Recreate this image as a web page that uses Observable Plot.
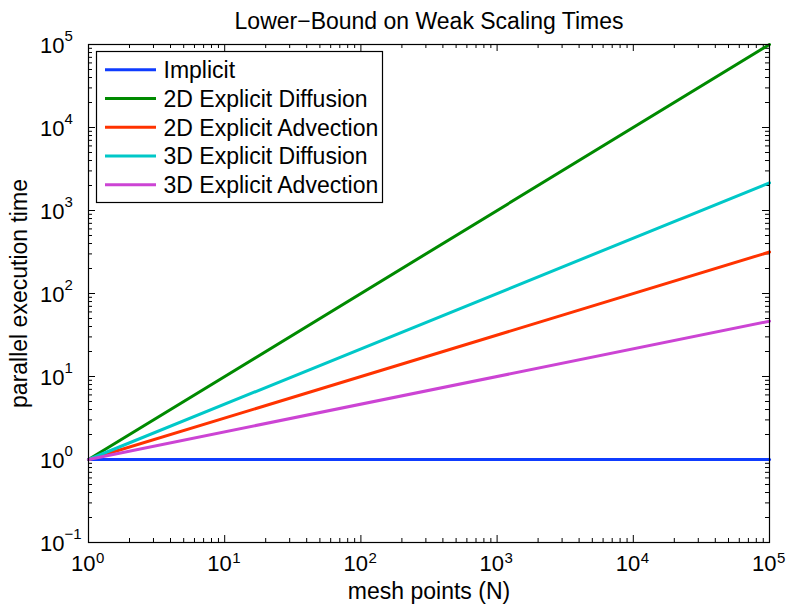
<!DOCTYPE html>
<html>
<head>
<meta charset="utf-8">
<script src="https://cdn.jsdelivr.net/npm/d3@7"></script>
<script src="https://cdn.jsdelivr.net/npm/@observablehq/plot@0.6"></script>
<style>
  html, body { margin: 0; padding: 0; background: #fff; }
  svg { font-family: "Liberation Sans", Arial, Helvetica, sans-serif; }
</style>
</head>
<body>
<div id="chart"></div>
<script>
// ---- data ----
const seriesNames = ["Implicit", "2D Explicit Diffusion", "2D Explicit Advection", "3D Explicit Diffusion", "3D Explicit Advection"];
const seriesColors = ["#0f3cff", "#008a00", "#ff3300", "#00c8c8", "#cc44d4"];
const meshPoints = [1, 100000];
const implicitTimes = [1, 1];
const diff2DTimes = [1, 100000];
const adv2DTimes = [1, 316];
const diff3DTimes = [1, 2154];
const adv3DTimes = [1, 46.4];
const seriesValues = [implicitTimes, diff2DTimes, adv2DTimes, diff3DTimes, adv3DTimes];
const xTickExponents = [0, 1, 2, 3, 4, 5];
const yTickExponents = [-1, 0, 1, 2, 3, 4, 5];
const titleText = "Lower\u2212Bound on Weak Scaling Times";
const xLabel = "mesh points (N)";
const yLabel = "parallel execution time";

// ---- layout ----
const W = 788, H = 605;
const mL = 88, mR = 19, mT = 44, mB = 63;
const innerW = W - mL - mR, innerH = H - mT - mB;
const FONT = 23;

const rows = [];
seriesNames.forEach((name, i) => {
  meshPoints.forEach((x, j) => rows.push({series: name, x, y: seriesValues[i][j]}));
});

const major = e => Math.pow(10, e);
const xMajor = xTickExponents.map(major);
const yMajor = yTickExponents.map(major);
const minorOf = exps => {
  const out = [];
  for (let k = 0; k < exps.length - 1; k++) for (let m = 2; m <= 9; m++) out.push(m * Math.pow(10, exps[k]));
  return out;
};
const xMinor = minorOf(xTickExponents);
const yMinor = minorOf(yTickExponents);
const majorLen = 7, minorLen = 4;

const marks = [];
// ticks (inward on all sides)
marks.push(Plot.tickX(xMajor, {x: d => d, insetTop: innerH - majorLen, stroke: "black"}));
marks.push(Plot.tickX(xMajor, {x: d => d, insetBottom: innerH - majorLen, stroke: "black"}));
marks.push(Plot.tickX(xMinor, {x: d => d, insetTop: innerH - minorLen, stroke: "black"}));
marks.push(Plot.tickX(xMinor, {x: d => d, insetBottom: innerH - minorLen, stroke: "black"}));
marks.push(Plot.tickY(yMajor, {y: d => d, insetRight: innerW - majorLen, stroke: "black"}));
marks.push(Plot.tickY(yMajor, {y: d => d, insetLeft: innerW - majorLen, stroke: "black"}));
marks.push(Plot.tickY(yMinor, {y: d => d, insetRight: innerW - minorLen, stroke: "black"}));
marks.push(Plot.tickY(yMinor, {y: d => d, insetLeft: innerW - minorLen, stroke: "black"}));

// data lines
marks.push(Plot.line(rows, {x: "x", y: "y", stroke: "series", strokeWidth: 3, z: "series"}));

// frame
marks.push(Plot.frame({stroke: "black", strokeWidth: 1.2}));

// tick labels
marks.push(Plot.text(xMajor, {x: d => d, frameAnchor: "bottom", lineAnchor: "middle", text: () => "10", textAnchor: "end", dx: 7, dy: 21, fontSize: 22}));
marks.push(Plot.text(xTickExponents, {x: d => Math.pow(10, d), frameAnchor: "bottom", lineAnchor: "middle", text: d => String(d).replace("-", "\u2212"), textAnchor: "start", dx: 7.5, dy: 16, fontSize: 15}));
marks.push(Plot.text(yMajor, {y: d => d, frameAnchor: "left", lineAnchor: "middle", text: () => "10", textAnchor: "end", dx: -24, dy: 1, fontSize: 22}));
marks.push(Plot.text(yTickExponents, {y: d => Math.pow(10, d), frameAnchor: "left", lineAnchor: "middle", text: d => String(d).replace("-", "\u2212"), textAnchor: "start", dx: -24, dy: -8, fontSize: 15}));

// legend
marks.push(Plot.frame({insetLeft: 8, insetTop: 7, insetRight: innerW - 294, insetBottom: innerH - 158, fill: "white", stroke: "black", strokeWidth: 1.2}));
seriesNames.forEach((name, i) => {
  const dy = 25.3 + 28.75 * i;
  marks.push(Plot.ruleY([1e5], {y: d => d, insetLeft: 17, insetRight: innerW - 68, dy, stroke: seriesColors[i], strokeWidth: 3}));
  marks.push(Plot.text([name], {frameAnchor: "top-left", lineAnchor: "middle", text: d => d, dx: 75, dy: dy + 1, textAnchor: "start", fontSize: FONT}));
});

// title & axis labels
marks.push(Plot.text([titleText], {frameAnchor: "top", lineAnchor: "middle", textAnchor: "middle", text: d => d, dy: -23, fontSize: FONT}));
marks.push(Plot.text([xLabel], {frameAnchor: "bottom", lineAnchor: "middle", textAnchor: "middle", text: d => d, dy: 49, fontSize: FONT}));
marks.push(Plot.text([yLabel], {frameAnchor: "left", lineAnchor: "middle", textAnchor: "middle", text: d => d, dx: -69, rotate: -90, fontSize: FONT}));

const chart = Plot.plot({
  width: W, height: H,
  marginLeft: mL, marginRight: mR, marginTop: mT, marginBottom: mB,
  style: {fontFamily: "'Liberation Sans', Arial, Helvetica, sans-serif", background: "white", color: "black"},
  x: {type: "log", domain: [1, 1e5], axis: null},
  y: {type: "log", domain: [0.1, 1e5], axis: null},
  color: {domain: seriesNames, range: seriesColors},
  marks
});
document.getElementById("chart").appendChild(chart);
</script>
</body>
</html>
